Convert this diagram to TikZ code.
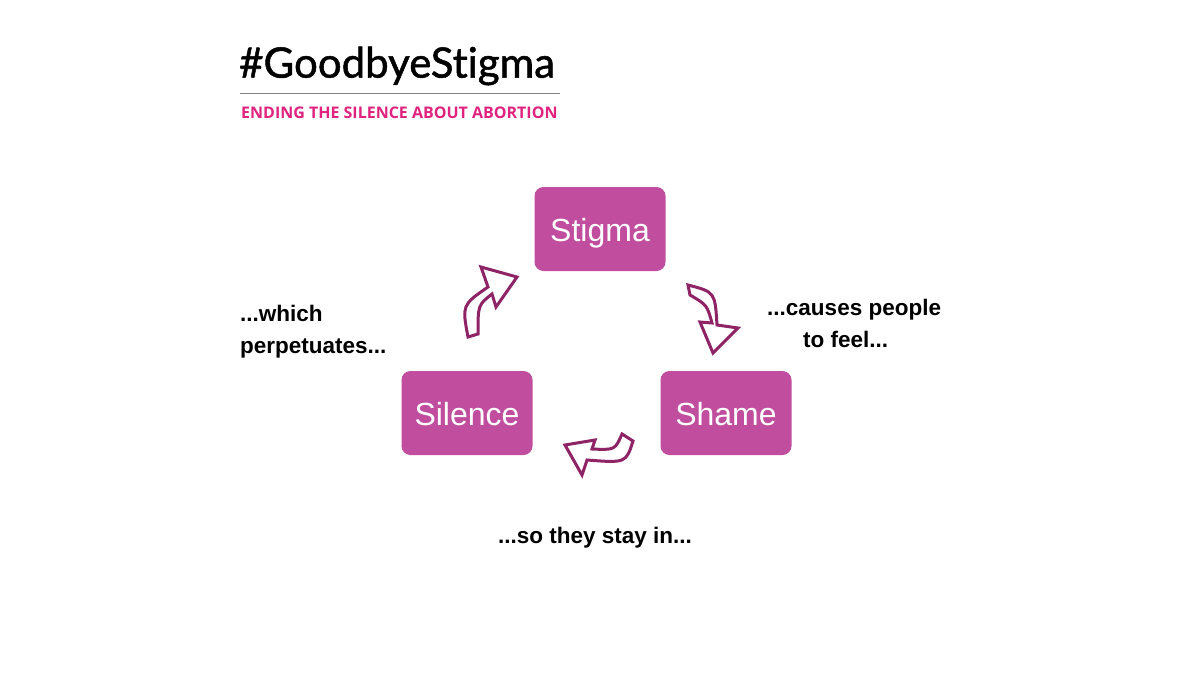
\documentclass[tikz,border=0pt]{standalone}
\usepackage{fontspec}
\setmainfont{Liberation Sans}
\newfontfamily\titlefont[FakeBold=1.2,RawFeature={-liga;-dlig;-calt}]{Lato}
\newfontfamily\subfont{Open Sans}
\definecolor{boxc}{HTML}{C04D9E}
\definecolor{arrc}{HTML}{8E2366}
\definecolor{pinkc}{HTML}{E0237F}
\begin{document}
\begin{tikzpicture}[x=1pt,y=-1pt,
  box/.style={fill=boxc,rounded corners=9pt,minimum width=131pt,minimum height=84pt,text=white,text height=25pt,text depth=0pt,font=\fontsize{32}{34}\selectfont},
  lab/.style={font=\bfseries\fontsize{22.5}{32}\selectfont,align=left,inner sep=0pt},
  blk/.style={draw=arrc,line width=3pt,fill=white,line join=miter}]
\useasboundingbox[fill=white] (0,0) rectangle (1200,686);
\node[anchor=west,inner sep=0pt,font=\titlefont\fontsize{42}{42}\selectfont] (title) at (239,66) {\#GoodbyeStigma};
\draw[gray,line width=1pt] (240,93) -- (560,93);
\node[anchor=west,inner sep=0pt,text=pinkc,font=\subfont\bfseries\fontsize{16}{16}\selectfont] (sub) at (241,113) {ENDING THE SILENCE ABOUT ABORTION};
\node[box] (stigma) at (600,229) {Stigma};
\node[box] (silence) at (467,413) {Silence};
\node[box] (shame) at (726,413) {Shame};
% arrows
\draw[blk] (468,337) .. controls (462,305) .. (488,287) -- (481,267) -- (517,277) -- (496,307) -- (492,294) .. controls (478,305) .. (478,334) -- cycle;
\draw[blk] (688,285) .. controls (715,292) .. (717,325) -- (738,328) -- (713,353) -- (700,322) -- (712,323) .. controls (707,305) .. (690,295) -- cycle;
\draw[blk] (622,434) .. controls (615,450) .. (592,449) -- (595,440) -- (565,445) -- (582,475) -- (587,460) .. controls (626,463) .. (633,441) -- cycle;
\node[lab,anchor=north west] (t1) at (240,305) {...which\\perpetuates...};
\node[lab,anchor=north west] (t2) at (767,299) {...causes people\\\hspace*{36pt}to feel...};
\node[lab] (t3) at (595,538) {...so they stay in...};
\end{tikzpicture}
\end{document}
